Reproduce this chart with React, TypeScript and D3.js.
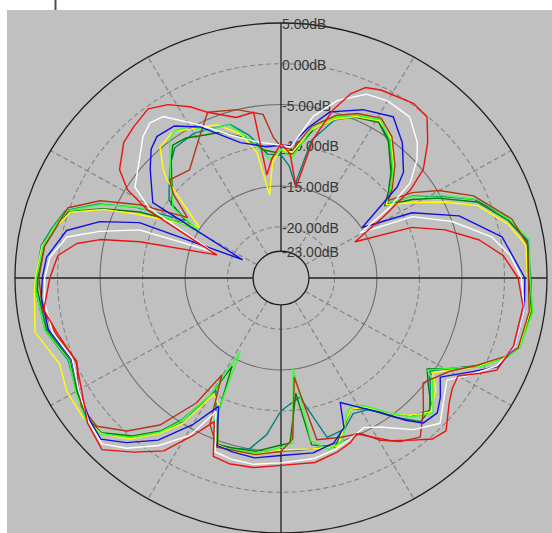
import React, { useEffect, useRef } from 'react';
import * as d3 from 'd3';

// [angle in degrees clockwise from top, gain in dB]
type Pt = [number, number];

const levels = [5, 0, -5, -10, -15, -20, -23];
const dashedLevels = [0, -10, -20];
const spokeAngles = [30, 60, 120, 150, 210, 240, 300, 330];
const axisAngles = [0, 90, 180, 270];

const red: Pt[] = [
  [-180, -3.3], [-172, -2.8], [-165, -2.7], [-160, -3.0], [-156, -7.0], [-152, -4.5], [-147, -1.0],
  [-141, 1.2], [-135, 3.5], [-128, 2.6], [-121, 1.0], [-113, -0.1], [-105, 0.8], [-98, 1.9], [-90, 0.9],
  [-84, 0.1], [-80, -1.9], [-77.5, -4.5], [-75, -9.1], [-69.5, -18.2], [-62, -8.5], [-59, -5.2],
  [-55, -3.1], [-48, -1.4], [-43, -0.9], [-37, -0.3], [-32, -1.2], [-27, -2.7], [-23, -4.2], [-15, -5.9],
  [-9, -5.7], [-7.5, -13.5], [-4, -11.5], [0, -9.8], [4, -11], [9, -15], [12.5, -8.9], [16.5, -4.8],
  [20, -2.2], [23, -0.9], [27, -0.4], [36, 0.2], [41, -0.1], [46, -2.3], [51.5, -4.9], [54.6, -7.6],
  [58, -12], [63, -16.5], [68, -9.7], [73, -6.1], [78.7, -2.5], [84, 0], [90, 1.6], [97, 2.4], [107, 2.3],
  [114, 1.5], [116.5, -0.1], [120, -2.25], [124, -2], [128, -1.2], [134, 0.7], [138, 0.3], [142, -1.05],
  [147, -2.5], [151, -3.95], [155, -5.2], [158, -4.5], [163, -3.9], [170, -3.3], [180, -3.3],
];

const white: Pt[] = [
  [-180, -3.6], [-172, -3.2], [-165, -3.3], [-160, -3.6], [-155, -8.2], [-151, -4.2], [-145, -1.2],
  [-139, 1.4], [-134, 3.0], [-128, 2.4], [-120, 1.2], [-112, 0.2], [-104, 1.4], [-96, 1.7], [-90, 1.5],
  [-84.6, 1.0], [-78.7, -0.6], [-75, -4.2], [-70.5, -8.6], [-68, -17.6], [-61, -8.5], [-57, -5.8],
  [-49, -4.2], [-43, -2.5], [-39, -1.8], [-35, -2.1], [-27, -5.2], [-19, -7.7], [-10, -9.3], [0, -10],
  [4, -10.2], [10.8, -6.1], [17, -3.5], [24, -1.6], [30, -1.2], [37.5, -1.4], [44, -3.2], [47.8, -4.7],
  [52.4, -7.1], [56, -11], [59.4, -15.4], [64, -9.1], [71, -5], [78.5, -1.0], [84, 0.8], [90, 2.0],
  [98, 2.6], [107, 2.5], [113, 1.3], [118, -1], [122.7, -3.1], [128, -2], [133.6, -0.45], [140, -2.0],
  [147.5, -4.6], [152, -5.5], [157, -5], [163, -4.3], [170, -3.8], [180, -3.6],
];

const blue: Pt[] = [
  [-180, -4.5], [-172, -4.0], [-165, -4.2], [-160, -4.4], [-155, -8.9], [-150, -5.5], [-144, -1.7],
  [-138, 0.9], [-133, 2.7], [-128, 2.2], [-120, 1.2], [-112, 0.3], [-103, 1.8], [-95, 2.0], [-90, 1.8],
  [-84.7, 1.4], [-77, -0.4], [-72, -3.9], [-67.8, -8.3], [-63.6, -21.2], [-58.5, -8.6], [-49, -5.9],
  [-44, -4.3], [-40, -3.6], [-34, -3.8], [-27, -5.5], [-16, -9], [-6, -10.1], [0, -10], [4, -10],
  [10, -7.5], [15.8, -5.1], [25, -3.5], [33.7, -2.5], [40.7, -4.4], [48, -6.9], [50.7, -8.6], [57, -14.9],
  [62.6, -8.9], [70, -4], [79, 0.2], [90, 2.4], [98, 2.6], [107, 2.5], [113, 1.5], [117, -1], [123, -3.95],
  [128, -2.5], [132, -1.55], [136.8, -1.86], [140, -3.5], [144.7, -6.1], [150, -8], [155.5, -9.5],
  [158, -6.5], [163, -5.1], [170, -4.5], [180, -4.5],
];

const lime: Pt[] = [
  [-180, -5.5], [-172, -4.6], [-165, -4.5], [-160, -4.2], [-156, -7], [-152, -16.1], [-150, -9.6],
  [-146, -5], [-143, -2.6], [-138, 0], [-132, 2.3], [-127, 2.5], [-120, 1.6], [-112, 0.6], [-103, 2.2],
  [-93, 2.6], [-90, 2.5], [-82, 2.0], [-77, 1.2], [-72, 0.3], [-67, -3.2], [-62.5, -7.5], [-59, -15],
  [-56, -11], [-53, -10.3], [-47, -8.5], [-42, -6.8], [-38, -5], [-35, -4.3], [-30, -4.8], [-26, -6.1],
  [-18, -6.5], [-12, -8.9], [-5, -11.7], [0, -10.5], [5, -11.5], [11.5, -7.3], [18, -5.5], [24, -4.4],
  [31, -3.6], [37, -5], [44.8, -7.6], [50, -9.5], [54, -10.5], [57, -7.9], [61.5, -5], [67.7, -1],
  [75, 1.5], [81, 3.3], [90, 3.0], [98, 3.6], [106.8, 3.1], [110, 2.0], [115, -0.45], [118.6, -3.2],
  [123.3, -5.7], [125, -4.5], [132.8, -1.9], [137.7, -3.2], [142.2, -5.3], [148.3, -7.9], [152, -8.5],
  [155, -8], [160, -5], [165, -4.5], [170, -6], [172.7, -15.1], [176, -6], [180, -5.5],
];

const yellow: Pt[] = [
  [-180, -5.2], [-172, -4.4], [-165, -4.3], [-160, -4.5], [-155, -9], [-151, -10], [-147, -5],
  [-143, -2.4], [-138, 0.3], [-132, 2.2], [-126, 2.6], [-119, 2.5], [-112, 1.8], [-103, 3.4], [-94, 2.8],
  [-90, 2.6], [-82, 2.1], [-77, 1.0], [-72, -0.2], [-68, -3.8], [-65, -7.9], [-57, -14.8], [-48, -8.2],
  [-46, -7.0], [-41.5, -4.8], [-35, -4.3], [-30, -5.2], [-22, -6], [-15, -8], [-10.4, -10.6],
  [-7.5, -16], [-4, -12], [0, -10.5], [5, -10.8], [11, -7.8], [18, -5.8], [24, -4.6], [31, -3.8],
  [37, -4.8], [44, -7.2], [50, -9.2], [54, -11], [59, -8.3], [64, -5], [69, -1.5], [76, 1.2], [82, 2.8],
  [90, 2.7], [98, 3.3], [107, 3.0], [110, 1.8], [115, -0.6], [119, -3], [123, -5], [127, -3.5],
  [133, -2.2], [138, -3.6], [143, -5.5], [148, -7.6], [153, -8.2], [157, -7], [162, -4.6], [170, -5],
  [180, -5.2],
];

const green: Pt[] = [
  [-180, -5.8], [-172, -4.8], [-165, -4.7], [-160, -4.5], [-156, -8], [-152, -14], [-150, -9.5],
  [-146, -5.2], [-143, -2.8], [-138, -0.2], [-132, 2.1], [-127, 2.3], [-120, 1.4], [-112, 0.5],
  [-103, 2.0], [-93, 2.4], [-90, 2.3], [-82, 1.8], [-77, 0.9], [-72, 0], [-68, -3.6], [-64, -7.8],
  [-58.5, -14], [-55, -10.5], [-50, -9.6], [-46, -8.4], [-42, -7], [-38, -5.6], [-33, -5.8], [-27, -6.6],
  [-22, -7], [-14, -8.5], [-7, -10.5], [0, -11], [5, -11], [12, -7.6], [18, -5.8], [24, -4.7], [31, -4],
  [37, -5.3], [45, -8], [50, -9.8], [54, -11.2], [58, -8.1], [62, -5.4], [68, -1.4], [75, 1.3], [81, 3.0],
  [90, 2.9], [98, 3.4], [107, 3.0], [110, 1.9], [115, -0.8], [119, -3.4], [123, -5.8], [127, -4.6],
  [132, -2.5], [137, -2.2], [142, -4.6], [148, -7.4], [153, -8.2], [158, -6.5], [163, -4.6], [170, -5.5],
  [173, -12], [177, -6], [180, -5.8],
];

const teal: Pt[] = [
  [-180, -10], [-175, -7], [-170, -5], [-165, -4.6], [-160, -4.6], [-155, -8.2], [-151, -10.5],
  [-147, -5.2], [-143, -2.5], [-138, 0], [-132, 2.2], [-127, 2.4], [-120, 1.5], [-112, 0.7], [-103, 2.2],
  [-93, 2.6], [-90, 2.5], [-82, 2.2], [-77, 1.3], [-72, 0.4], [-67, -3], [-63, -7.2], [-58, -13],
  [-54, -10], [-48, -8.6], [-43, -7.2], [-38, -6], [-30, -5.8], [-24, -6.2], [-17.7, -6.5], [-12, -8.4],
  [-6, -11], [0, -11.2], [4, -12.5], [8.2, -14.7], [12, -9], [18, -5.9], [24, -4.5], [31, -3.9],
  [37, -5.1], [45, -7.8], [50, -9.5], [54, -10.8], [57, -7.8], [61.5, -5.2], [67, -1.6], [74, 1.2],
  [81, 3.1], [90, 3.1], [98, 3.5], [107, 3.0], [110, 2.0], [115, -0.7], [119, -3.4], [123, -5.4],
  [128, -4], [133, -2.4], [138, -3.5], [143, -5.5], [148, -7.2], [153, -7.6], [158, -6.3], [164.5, -6],
  [171.4, -11.5], [180, -10],
];

const brown: Pt[] = [
  [-180, -5], [-172, -4.4], [-165, -4.4], [-160, -4.2], [-155, -6.5], [-149.7, -12.5], [-147, -8],
  [-141.7, -3.3], [-136, -0.2], [-130, 2.0], [-124, 2.0], [-119, 1.0], [-113, -0.2], [-105, 1.0],
  [-98, 2.0], [-90, 2.2], [-82, 1.8], [-76, 0.8], [-71, 0.2], [-66, -3.0], [-61.6, -7.4], [-56, -13],
  [-51, -10], [-47.4, -8.5], [-39, -9.2], [-29, -6.5], [-23, -4.2], [-14, -5], [-6, -6.1], [-3, -9],
  [0, -10.2], [5, -10.5], [11, -7.3], [18, -5.3], [24, -4.2], [31, -3.4], [37, -4.6], [44, -7], [50, -9.2],
  [53, -10.5], [55.9, -7.6], [60, -4.8], [66, -1.5], [75, 1.8], [82, 3.0], [90, 2.8], [98, 3.2],
  [107, 2.9], [110, 1.8], [115, -0.9], [120, -3.4], [127.6, -5.2], [134, -3], [140, -0.8], [145, -1.8],
  [149.6, -3.2], [154, -5.1], [160, -5.5], [168, -6], [172.7, -14], [176, -6.5], [180, -5],
];

const series = [
  { name: 'teal', color: '#008080', data: teal },
  { name: 'green', color: '#008000', data: green },
  { name: 'yellow', color: '#ffff00', data: yellow },
  { name: 'lime', color: '#33ff33', data: lime },
  { name: 'brown', color: '#b03818', data: brown },
  { name: 'blue', color: '#1010e0', data: blue },
  { name: 'white', color: '#ffffff', data: white },
  { name: 'red', color: '#ee1010', data: red },
];

const W = 552;
const H = 533;
const cx = 281;
const cy = 278;
const RX = 266;
const RY = 255;

const App = () => {
  const svgRef = useRef<SVGSVGElement | null>(null);

  useEffect(() => {
    if (!svgRef.current) return;
    const svg = d3.select(svgRef.current);
    svg.selectAll('*').remove();

    const r = d3.scaleLinear().domain([-23, 5]).range([0.105, 1]);
    const rad = (a: number) => (a * Math.PI) / 180;
    const px = (a: number, v: number) => cx + RX * r(v) * Math.sin(rad(a));
    const py = (a: number, v: number) => cy - RY * r(v) * Math.cos(rad(a));

    svg.append('rect').attr('x', 7).attr('y', 10).attr('width', W - 7).attr('height', H - 10).attr('fill', '#c0c0c0');

    // little mark above the panel
    svg.append('line').attr('x1', 55.5).attr('x2', 55.5).attr('y1', 0).attr('y2', 10)
      .attr('stroke', '#505050').attr('stroke-width', 2);

    const grid = svg.append('g');

    // spokes
    grid.selectAll('line.spoke')
      .data(spokeAngles)
      .enter()
      .append('line')
      .attr('class', 'spoke')
      .attr('x1', (a) => px(a, -23))
      .attr('y1', (a) => py(a, -23))
      .attr('x2', (a) => px(a, 5))
      .attr('y2', (a) => py(a, 5))
      .attr('stroke', '#858585')
      .attr('stroke-width', 1.2)
      .attr('stroke-dasharray', '5,3');

    // rings
    grid.selectAll('ellipse')
      .data(levels)
      .enter()
      .append('ellipse')
      .attr('cx', cx)
      .attr('cy', cy)
      .attr('rx', (v) => RX * r(v))
      .attr('ry', (v) => RY * r(v))
      .attr('fill', 'none')
      .attr('stroke', (v) => (v === 5 || v === -23 ? '#202020' : dashedLevels.includes(v) ? '#858585' : '#6c6c6c'))
      .attr('stroke-width', (v) => (v === 5 || v === -23 ? 1.3 : 1.1))
      .attr('stroke-dasharray', (v) => (dashedLevels.includes(v) ? '5,3' : null));

    // axes
    grid.selectAll('line.axis')
      .data(axisAngles)
      .enter()
      .append('line')
      .attr('class', 'axis')
      .attr('x1', (a) => px(a, -23))
      .attr('y1', (a) => py(a, -23))
      .attr('x2', (a) => px(a, 5))
      .attr('y2', (a) => py(a, 5))
      .attr('stroke', '#202020')
      .attr('stroke-width', 1.3);

    // ring labels
    svg.append('g')
      .selectAll('text')
      .data(levels)
      .enter()
      .append('text')
      .attr('x', cx + 1)
      .attr('y', (v) => py(0, v) + 1)
      .attr('dominant-baseline', 'central')
      .attr('font-family', '"Liberation Sans", Arial, sans-serif')
      .attr('font-size', 14)
      .attr('fill', '#383838')
      .text((v) => `${v.toFixed(2)}dB`);

    const line = d3
      .line<Pt>()
      .x((d) => px(d[0], d[1]))
      .y((d) => py(d[0], d[1]));

    svg.append('g')
      .selectAll('path')
      .data(series)
      .enter()
      .append('path')
      .attr('d', (s) => line(s.data))
      .attr('fill', 'none')
      .attr('stroke', (s) => s.color)
      .attr('stroke-width', 1.4)
      .attr('stroke-linejoin', 'round');
  }, []);

  return <svg ref={svgRef} width={W} height={H} style={{ position: 'absolute', left: 0, top: 0 }} />;
};

export default App;
